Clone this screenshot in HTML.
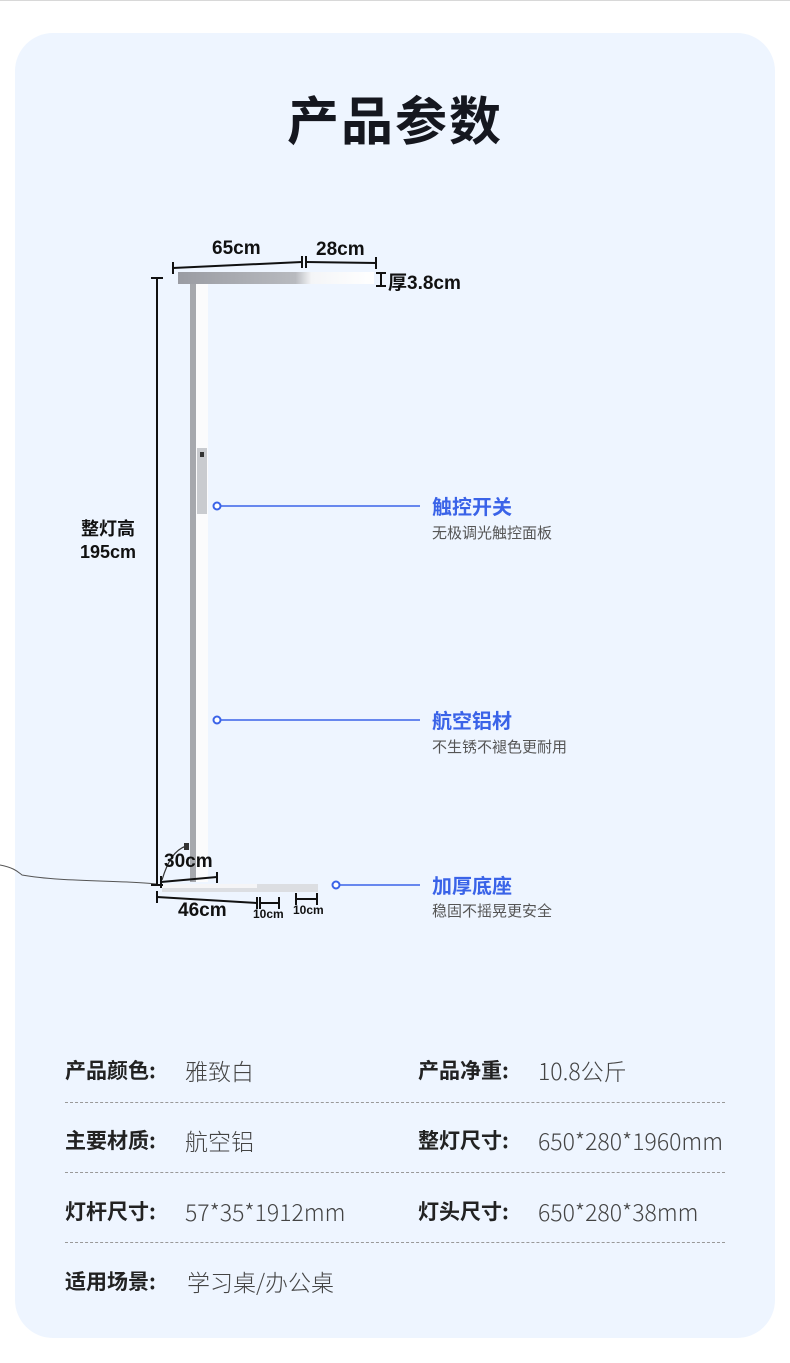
<!DOCTYPE html>
<html><head><meta charset="utf-8"><style>
body{margin:0;width:790px;height:1363px;background:#fff;position:relative;overflow:hidden;font-family:"Liberation Sans","Noto Sans CJK SC",sans-serif;}
.topline{position:absolute;left:0;top:0;width:790px;height:1px;background:#d8d8d8}
.card{position:absolute;left:15px;top:33px;width:760px;height:1305px;background:#eef5ff;border-radius:38px}
.title{position:absolute;left:0;width:790px;top:80px;text-align:center;font-size:52px;font-weight:bold;color:#15171f;letter-spacing:2px}
.t{position:absolute;white-space:nowrap;color:#111;font-weight:bold}
.cl{position:absolute;font-size:20px;color:#3a63e8;font-weight:bold}
.cs{position:absolute;font-size:15px;color:#555}
.lab{position:absolute;font-size:21px;font-weight:bold;color:#222;white-space:nowrap;line-height:30px;font-family:"Noto Sans CJK SC",sans-serif}
.val{position:absolute;font-size:23px;color:#444;white-space:nowrap;line-height:30px;font-family:"Noto Sans CJK SC",sans-serif;font-weight:300}
.dash{position:absolute;left:65px;width:660px;border-top:1px dashed #999}
</style></head><body>
<div class="topline"></div>
<div class="card"></div>
<div class="title">产品参数</div>
<svg style="position:absolute;left:0;top:0" width="790" height="1363">
<defs>
<linearGradient id="hd" x1="0" x2="1">
<stop offset="0" stop-color="#9a9ca3"/><stop offset="0.6" stop-color="#b8babf"/><stop offset="0.68" stop-color="#f4f5f7"/><stop offset="1" stop-color="#fff"/>
</linearGradient>
</defs>
<rect x="178" y="272" width="196" height="12" fill="url(#hd)"/>
<rect x="190" y="284" width="6" height="598" fill="#a6a8ad"/>
<rect x="196" y="284" width="12" height="598" fill="#fbfbfc"/>
<rect x="197" y="448" width="10" height="66" fill="#c9cbcf"/>
<rect x="200" y="452" width="4" height="5" fill="#333"/>
<rect x="162" y="884" width="156" height="8" fill="#dcdee2"/>
<rect x="162" y="884" width="95" height="4" fill="#f5f5f7"/>
<path d="M0 865 C15 868 18 872 22 875 C60 882 120 880 157 884" stroke="#555" fill="none" stroke-width="1"/>
<path d="M162 880 C168 860 175 850 186 846" stroke="#333" fill="none" stroke-width="1.2"/>
<rect x="184" y="843" width="5" height="7" fill="#333"/>
<g stroke="#111" stroke-width="2" fill="none">
<line x1="173" y1="268" x2="302" y2="262"/><line x1="173" y1="262" x2="173" y2="274"/><line x1="302" y1="256" x2="302" y2="268"/>
<line x1="306" y1="262" x2="376" y2="263"/><line x1="306" y1="256" x2="306" y2="268"/><line x1="376" y1="257" x2="376" y2="269"/>
<line x1="381" y1="273" x2="381" y2="286"/><line x1="376" y1="273" x2="386" y2="273"/><line x1="376" y1="286" x2="386" y2="286"/>
<line x1="157" y1="278" x2="157" y2="885"/><line x1="151" y1="278" x2="163" y2="278"/><line x1="151" y1="885" x2="163" y2="885"/>
<line x1="161" y1="882" x2="217" y2="877"/><line x1="161" y1="876" x2="161" y2="888"/><line x1="217" y1="872" x2="217" y2="883"/>
<line x1="157" y1="897" x2="257" y2="903"/><line x1="157" y1="891" x2="157" y2="903"/><line x1="257" y1="897" x2="257" y2="909"/>
<line x1="260" y1="903" x2="279" y2="903"/><line x1="260" y1="897" x2="260" y2="909"/><line x1="279" y1="897" x2="279" y2="909"/>
<line x1="296" y1="899" x2="317" y2="899"/><line x1="296" y1="893" x2="296" y2="905"/><line x1="317" y1="893" x2="317" y2="905"/>
</g>
<g stroke="#3a63e8" stroke-width="1.5" fill="#fff">
<line x1="221" y1="506" x2="420" y2="506"/><circle cx="217" cy="506" r="3.5" stroke-width="2"/>
<line x1="221" y1="720" x2="420" y2="720"/><circle cx="217" cy="720" r="3.5" stroke-width="2"/>
<line x1="340" y1="885" x2="420" y2="885"/><circle cx="336" cy="885" r="3.5" stroke-width="2"/>
</g>
</svg>
<div class="t" style="left:212px;top:238px;font-size:19px">65cm</div>
<div class="t" style="left:316px;top:239px;font-size:19px">28cm</div>
<div class="t" style="left:388px;top:268px;font-size:19px">厚3.8cm</div>
<div class="t" style="left:74px;top:518px;font-size:18px;text-align:center;width:68px;line-height:23px">整灯高<br>195cm</div>
<div class="t" style="left:164px;top:851px;font-size:19px">30cm</div>
<div class="t" style="left:178px;top:900px;font-size:19px">46cm</div>
<div class="t" style="left:253px;top:907px;font-size:12px">10cm</div>
<div class="t" style="left:293px;top:903px;font-size:12px">10cm</div>
<div class="cl" style="left:432px;top:491px">触控开关</div>
<div class="cs" style="left:432px;top:522px">无极调光触控面板</div>
<div class="cl" style="left:432px;top:705px">航空铝材</div>
<div class="cs" style="left:432px;top:736px">不生锈不褪色更耐用</div>
<div class="cl" style="left:432px;top:870px">加厚底座</div>
<div class="cs" style="left:432px;top:900px">稳固不摇晃更安全</div>
<div class="lab" style="left:65px;top:1055px">产品颜色:</div><div class="val" style="left:185px;top:1055px">雅致白</div>
<div class="lab" style="left:418px;top:1055px">产品净重:</div><div class="val" style="left:538px;top:1055px">10.8公斤</div>
<div class="dash" style="top:1102px"></div>
<div class="lab" style="left:65px;top:1125px">主要材质:</div><div class="val" style="left:185px;top:1125px">航空铝</div>
<div class="lab" style="left:418px;top:1125px">整灯尺寸:</div><div class="val" style="left:538px;top:1125px">650*280*1960mm</div>
<div class="dash" style="top:1172px"></div>
<div class="lab" style="left:65px;top:1196px">灯杆尺寸:</div><div class="val" style="left:185px;top:1196px">57*35*1912mm</div>
<div class="lab" style="left:418px;top:1196px">灯头尺寸:</div><div class="val" style="left:538px;top:1196px">650*280*38mm</div>
<div class="dash" style="top:1242px"></div>
<div class="lab" style="left:65px;top:1266px">适用场景:</div><div class="val" style="left:187px;top:1266px">学习桌/办公桌</div>
</body></html>
